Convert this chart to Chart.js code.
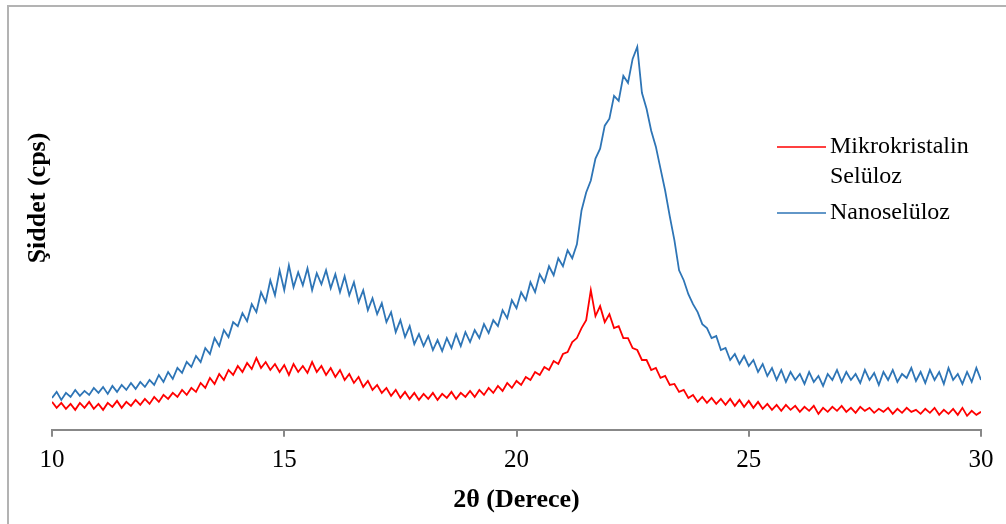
<!DOCTYPE html>
<html>
<head>
<meta charset="utf-8">
<script src="https://cdn.jsdelivr.net/npm/chart.js@4/dist/chart.umd.min.js"></script>
<style>
  html, body { margin: 0; padding: 0; background: #fff; }
  #wrap { position: relative; width: 1006px; height: 524px; }
  #frame { position: absolute; left: 7px; top: 5px; right: 0; bottom: 0;
           border-left: 2px solid #b3b3b3; border-top: 2px solid #b3b3b3; pointer-events: none; }
</style>
</head>
<body>
<div id="wrap">
  <canvas id="myChart" width="1006" height="524"></canvas>
  <div id="frame"></div>
</div>
<script>
// 2θ from 10 to 30 in 0.1 steps
const angles = [];
for (let i = 0; i <= 200; i++) angles.push(+(10 + i * 0.1).toFixed(1));

const xTicks = [10, 15, 20, 25, 30];

// Intensity readings (arbitrary units)
const nanoValues = [
  32, 38, 30, 37, 33, 40, 34, 39, 35, 42,
  37, 43, 36, 44, 38, 45, 40, 47, 41, 48,
  43, 50, 45, 55, 48, 58, 51, 62, 57, 68,
  63, 74, 68, 82, 76, 92, 84, 100, 93, 108,
  104, 117, 109, 126, 118, 138, 128, 150, 135, 160,
  140, 165, 143, 158, 145, 162, 140, 157, 146, 160,
  142, 156, 138, 154, 135, 148, 128, 140, 120, 132,
  116, 127, 108, 118, 98, 110, 93, 104, 86, 96,
  84, 94, 80, 90, 79, 92, 82, 96, 84, 98,
  88, 100, 92, 106, 97, 110, 104, 120, 112, 130,
  122, 138, 130, 148, 138, 156, 148, 164, 155, 172,
  164, 180, 172, 186, 220, 238, 250, 272, 282, 305,
  312, 335, 330, 355, 348, 372, 384, 338, 322, 300,
  284, 262, 240, 214, 190, 160, 150, 136, 126, 118,
  106, 102, 92, 94, 80, 82, 70, 76, 66, 74,
  64, 70, 58, 66, 54, 62, 50, 60, 48, 58,
  50, 56, 46, 58, 48, 54, 44, 56, 50, 60,
  48, 58, 50, 56, 47, 60, 50, 57, 45, 58,
  50, 60, 48, 56, 52, 62, 49, 58, 47, 60,
  50, 58, 46, 62, 50, 56, 46, 58, 48, 62,
  50
];

const microValues = [
  28, 22, 27, 21, 26, 20, 27, 22, 28, 21,
  26, 20, 27, 23, 29, 22, 28, 24, 30, 25,
  31, 26, 33, 28, 35, 31, 37, 33, 40, 35,
  42, 38, 47, 42, 52, 46, 56, 50, 60, 55,
  64, 58, 67, 61, 72, 62, 68, 60, 66, 58,
  65, 55, 66, 58, 64, 57, 68, 58, 64, 55,
  62, 53, 60, 50, 56, 47, 53, 43, 49, 40,
  45, 37, 42, 34, 40, 32, 38, 31, 37, 30,
  36, 31, 37, 30, 36, 32, 38, 31, 37, 33,
  39, 33, 40, 35, 42, 37, 44, 39, 47, 42,
  49, 45, 53, 50, 58, 55, 63, 60, 69, 66,
  76, 78, 88, 92, 102, 110, 140, 114, 124, 108,
  116, 102, 104, 92, 92, 82, 80, 70, 70, 60,
  62, 52, 54, 45, 46, 38, 40, 32, 35, 28,
  33, 27, 32, 26, 31, 25, 31, 24, 30, 23,
  29, 22, 28, 21, 26, 20, 25, 19, 25, 20,
  24, 18, 23, 19, 24, 16, 22, 18, 23, 19,
  24, 18, 22, 17, 23, 19, 22, 17, 21, 18,
  22, 16, 21, 17, 22, 18, 20, 16, 21, 17,
  22, 15, 20, 16, 21, 15, 22, 14, 19, 15,
  18
];

const seriesNames = [['Mikrokristalin', 'Selüloz'], ['Nanoselüloz']];
const seriesColors = ['#ff0000', '#2e75b6'];
const yTitle = 'Şiddet (cps)';

const serif = '"Liberation Serif", "Times New Roman", serif';

// Legend drawn inside the plot, to the right of the peak, plus the y title
const sideLegend = {
  id: 'sideLegend',
  afterDraw(chart) {
    const ctx = chart.ctx;
    const rows = [147, 213];
    ctx.save();
    ctx.font = '24px ' + serif;
    ctx.textBaseline = 'middle';
    chart.data.datasets.forEach((ds, i) => {
      const y = rows[i];
      ctx.strokeStyle = ds.borderColor;
      ctx.lineWidth = 1.5;
      ctx.beginPath();
      ctx.moveTo(777, y);
      ctx.lineTo(826, y);
      ctx.stroke();
      ctx.fillStyle = '#000';
      seriesNames[i].forEach((line, j) => ctx.fillText(line, 830, y + j * 30));
    });
    // vertical axis title
    ctx.translate(38, 198);
    ctx.rotate(-Math.PI / 2);
    ctx.font = 'bold 26px ' + serif;
    ctx.textAlign = 'center';
    ctx.fillText(yTitle, 0, 0);
    ctx.restore();
  }
};

const ctx = document.getElementById('myChart').getContext('2d');

const myChart = new Chart(ctx, {
  type: 'line',
  data: {
    datasets: [
      {
        label: seriesNames[0].join(' '),
        data: angles.map((a, i) => ({ x: a, y: microValues[i] })),
        borderColor: seriesColors[0],
        borderWidth: 1.8,
        pointRadius: 0,
        tension: 0
      },
      {
        label: seriesNames[1].join(' '),
        data: angles.map((a, i) => ({ x: a, y: nanoValues[i] })),
        borderColor: seriesColors[1],
        borderWidth: 1.8,
        pointRadius: 0,
        tension: 0
      }
    ]
  },
  options: {
    responsive: false,
    animation: false,
    layout: { padding: { left: 52, right: 25, top: 20, bottom: 8 } },
    plugins: {
      legend: { display: false },
      tooltip: { enabled: false }
    },
    scales: {
      x: {
        type: 'linear',
        min: 10,
        max: 30,
        afterBuildTicks: (axis) => { axis.ticks = xTicks.map(v => ({ value: v })); },
        grid: { display: true, drawOnChartArea: false, drawTicks: true, tickLength: 7,
                color: '#888', lineWidth: 2 },
        border: { display: true, color: '#888', width: 2 },
        ticks: { color: '#000', font: { family: serif, size: 25 }, padding: 9, maxRotation: 0 },
        title: { display: true, text: '2θ (Derece)', color: '#000',
                 font: { family: serif, size: 26, weight: 'bold' }, padding: { top: 0, bottom: 0 } }
      },
      y: {
        display: false,
        min: 0,
        max: 411
      }
    }
  },
  plugins: [sideLegend]
});
</script>
</body>
</html>
